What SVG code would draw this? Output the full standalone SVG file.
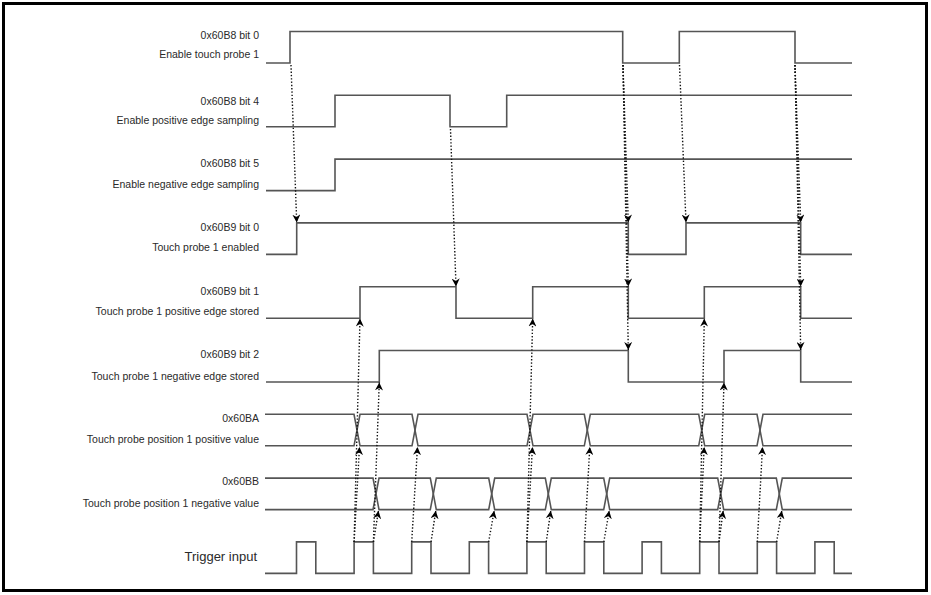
<svg xmlns="http://www.w3.org/2000/svg" width="931" height="595" viewBox="0 0 931 595">
<style>
.sig{fill:none;stroke:#555;stroke-width:1.6;stroke-linejoin:miter}
.lbl{font-family:"Liberation Sans",Arial,sans-serif;font-size:10.5px;fill:#2a2a2a;text-anchor:end}
.big{font-family:"Liberation Sans",Arial,sans-serif;font-size:13px;fill:#2a2a2a;text-anchor:end}
.dot{fill:none;stroke:#111;stroke-width:1.4;stroke-dasharray:1.4 1.9}
</style>
<defs>
<marker id="ah" viewBox="0 0 8 8" refX="8" refY="4" markerWidth="8" markerHeight="8" orient="auto" markerUnits="userSpaceOnUse">
<path d="M0,0 L8,4 L0,8 L2.5,4 z" fill="#000"/>
</marker>
</defs>
<rect x="0" y="0" width="931" height="595" fill="#fff"/>
<rect x="3.5" y="3.5" width="923" height="587" fill="none" stroke="#000" stroke-width="3"/>

<g id="sig-60B8-bit0">
<text class="lbl" x="259" y="38.8">0x60B8 bit 0</text>
<text class="lbl" x="259" y="58.3">Enable touch probe 1</text>
<polyline class="sig" points="266,63 290,63 290,31.5 622.7,31.5 622.7,63 679.3,63 679.3,31.5 795,31.5 795,63 852,63"/>
</g>
<g id="sig-60B8-bit4">
<text class="lbl" x="259" y="104.8">0x60B8 bit 4</text>
<text class="lbl" x="259" y="123.5">Enable positive edge sampling</text>
<polyline class="sig" points="266,126.8 335,126.8 335,95.3 450,95.3 450,126.8 506.7,126.8 506.7,95.3 852,95.3"/>
</g>
<g id="sig-60B8-bit5">
<text class="lbl" x="259" y="167">0x60B8 bit 5</text>
<text class="lbl" x="259" y="188">Enable negative edge sampling</text>
<polyline class="sig" points="266,190.6 335,190.6 335,159.1 852,159.1"/>
</g>
<g id="sig-60B9-bit0">
<text class="lbl" x="259" y="230.5">0x60B9 bit 0</text>
<text class="lbl" x="259" y="251.3">Touch probe 1 enabled</text>
<polyline class="sig" points="266,254.4 296.7,254.4 296.7,222.9 628.3,222.9 628.3,254.4 686,254.4 686,222.9 800.7,222.9 800.7,254.4 852,254.4"/>
</g>
<g id="sig-60B9-bit1">
<text class="lbl" x="259" y="294.5">0x60B9 bit 1</text>
<text class="lbl" x="259" y="315">Touch probe 1 positive edge stored</text>
<polyline class="sig" points="266,318.2 360,318.2 360,286.7 456,286.7 456,318.2 532.7,318.2 532.7,286.7 628.3,286.7 628.3,318.2 704.3,318.2 704.3,286.7 800.7,286.7 800.7,318.2 852,318.2"/>
</g>
<g id="sig-60B9-bit2">
<text class="lbl" x="259" y="357.8">0x60B9 bit 2</text>
<text class="lbl" x="259" y="379.5">Touch probe 1 negative edge stored</text>
<polyline class="sig" points="266,382 379.3,382 379.3,350.5 628.3,350.5 628.3,382 724,382 724,350.5 800.7,350.5 800.7,382 852,382"/>
</g>
<g id="sig-60BA">
<text class="lbl" x="259" y="422">0x60BA</text>
<text class="lbl" x="259" y="443">Touch probe position 1 positive value</text>
<path class="sig" d="M265,414.3 H354 L360,445.8 H412 L418,414.3 H527 L533,445.8 H584.3 L590.3,414.3 H698.7 L704.7,445.8 H757 L763,414.3 H852"/>
<path class="sig" d="M265,445.8 H354 L360,414.3 H412 L418,445.8 H527 L533,414.3 H584.3 L590.3,445.8 H698.7 L704.7,414.3 H757 L763,445.8 H852"/>
</g>
<g id="sig-60BB">
<text class="lbl" x="259" y="484.5">0x60BB</text>
<text class="lbl" x="259" y="506.5">Touch probe position 1 negative value</text>
<path class="sig" d="M265,478.1 H373 L379,509.6 H430.3 L436.3,478.1 H488.7 L494.7,509.6 H545.3 L551.3,478.1 H603.7 L609.7,509.6 H717.7 L723.7,478.1 H776.3 L782.3,509.6 H852"/>
<path class="sig" d="M265,509.6 H373 L379,478.1 H430.3 L436.3,509.6 H488.7 L494.7,478.1 H545.3 L551.3,509.6 H603.7 L609.7,478.1 H717.7 L723.7,509.6 H776.3 L782.3,478.1 H852"/>
</g>
<g id="sig-trigger">
<text class="big" x="257" y="560.5">Trigger input</text>
<polyline class="sig" points="265,573.4 296.5,573.4 296.5,541.9 315.8,541.9 315.8,573.4 354.1,573.4 354.1,541.9 373.4,541.9 373.4,573.4 411.7,573.4 411.7,541.9 431,541.9 431,573.4 469.3,573.4 469.3,541.9 488.6,541.9 488.6,573.4 526.9,573.4 526.9,541.9 546.2,541.9 546.2,573.4 584.5,573.4 584.5,541.9 603.8,541.9 603.8,573.4 642.1,573.4 642.1,541.9 661.4,541.9 661.4,573.4 699.7,573.4 699.7,541.9 719,541.9 719,573.4 757.3,573.4 757.3,541.9 776.6,541.9 776.6,573.4 814.9,573.4 814.9,541.9 834.2,541.9 834.2,573.4 852,573.4"/>
</g>

<g id="connectors">
<line class="dot" x1="291" y1="65" x2="296.7" y2="222.5" marker-end="url(#ah)"/>
<line class="dot" x1="450.5" y1="129" x2="456" y2="286.5" marker-end="url(#ah)"/>
<line class="dot" x1="623" y1="65" x2="628.3" y2="222.5" marker-end="url(#ah)"/>
<line class="dot" x1="623" y1="65" x2="628.3" y2="286.5" marker-end="url(#ah)"/>
<line class="dot" x1="623" y1="65" x2="628.3" y2="350" marker-end="url(#ah)"/>
<line class="dot" x1="679.5" y1="65" x2="686" y2="222.5" marker-end="url(#ah)"/>
<line class="dot" x1="795" y1="65" x2="800.7" y2="222.5" marker-end="url(#ah)"/>
<line class="dot" x1="795" y1="65" x2="800.7" y2="286.5" marker-end="url(#ah)"/>
<line class="dot" x1="795" y1="65" x2="800.7" y2="350" marker-end="url(#ah)"/>

<line class="dot" x1="354.1" y1="541.9" x2="359.5" y2="447" marker-end="url(#ah)"/>
<line class="dot" x1="354.1" y1="541.9" x2="360" y2="318.6" marker-end="url(#ah)"/>
<line class="dot" x1="373.4" y1="541.9" x2="378.5" y2="510.8" marker-end="url(#ah)"/>
<line class="dot" x1="373.4" y1="541.9" x2="379.3" y2="382.4" marker-end="url(#ah)"/>
<line class="dot" x1="411.7" y1="541.9" x2="417.5" y2="447" marker-end="url(#ah)"/>
<line class="dot" x1="431" y1="541.9" x2="435.8" y2="510.8" marker-end="url(#ah)"/>
<line class="dot" x1="488.6" y1="541.9" x2="494.2" y2="510.8" marker-end="url(#ah)"/>
<line class="dot" x1="526.9" y1="541.9" x2="532.5" y2="447" marker-end="url(#ah)"/>
<line class="dot" x1="526.9" y1="541.9" x2="532.7" y2="318.6" marker-end="url(#ah)"/>
<line class="dot" x1="546.2" y1="541.9" x2="550.8" y2="510.8" marker-end="url(#ah)"/>
<line class="dot" x1="584.5" y1="541.9" x2="589.8" y2="447" marker-end="url(#ah)"/>
<line class="dot" x1="603.8" y1="541.9" x2="609.2" y2="510.8" marker-end="url(#ah)"/>
<line class="dot" x1="699.7" y1="541.9" x2="704.2" y2="447" marker-end="url(#ah)"/>
<line class="dot" x1="699.7" y1="541.9" x2="704.3" y2="318.6" marker-end="url(#ah)"/>
<line class="dot" x1="719" y1="541.9" x2="723.2" y2="510.8" marker-end="url(#ah)"/>
<line class="dot" x1="719" y1="541.9" x2="724" y2="382.4" marker-end="url(#ah)"/>
<line class="dot" x1="757.3" y1="541.9" x2="762.5" y2="447" marker-end="url(#ah)"/>
<line class="dot" x1="776.6" y1="541.9" x2="781.8" y2="510.8" marker-end="url(#ah)"/>
</g>
</svg>
